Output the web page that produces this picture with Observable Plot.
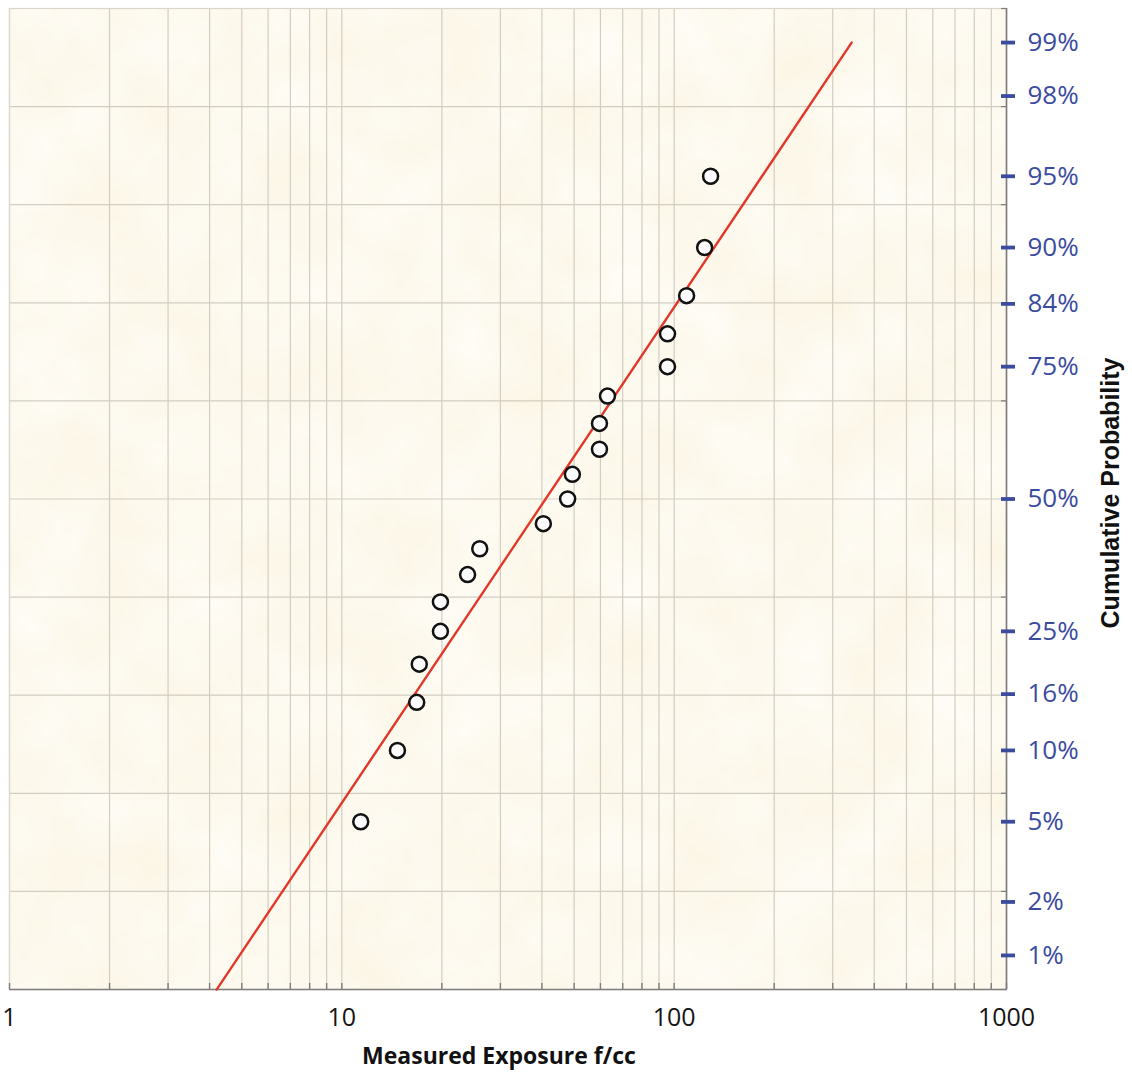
<!DOCTYPE html>
<html>
<head>
<meta charset="utf-8">
<script src="https://cdn.jsdelivr.net/npm/d3@7"></script>
<script src="https://cdn.jsdelivr.net/npm/@observablehq/plot@0.6"></script>
<style>
  html, body { margin: 0; padding: 0; background: #ffffff; }
  #chart { width: 1132px; height: 1074px; }
</style>
</head>
<body>
<div id="chart"></div>
<script>
// ---- data ----
const exposure = [11.4, 14.7, 16.8, 17.1, 19.8, 19.8, 23.9, 26.0, 40.4, 47.8, 49.4, 59.6, 59.6, 63.0, 95.5, 95.5, 109, 123.5, 128.7];
const cumProb  = [0.05, 0.10, 0.15, 0.20, 0.25, 0.30, 0.35, 0.40, 0.45, 0.50, 0.55, 0.60, 0.65, 0.70, 0.75, 0.80, 0.85, 0.90, 0.95];
const fitExposure = [4.2, 342];
const fitProb     = [0.0062, 0.99];
const probTicks  = [0.01, 0.02, 0.05, 0.10, 0.16, 0.25, 0.50, 0.75, 0.84, 0.90, 0.95, 0.98, 0.99];
const probLabels = ["1%", "2%", "5%", "10%", "16%", "25%", "50%", "75%", "84%", "90%", "95%", "98%", "99%"];
const zGrid = [-2.5, -2, -1.5, -1, -0.5, 0, 0.5, 1, 1.5, 2, 2.5];
const xTickValues = [1, 10, 100, 1000];
const xTickLabels = ["1", "10", "100", "1000"];
const xTitle = "Measured Exposure f/cc";
const yTitle = "Cumulative Probability";

// inverse standard normal CDF (Acklam)
function qnorm(p) {
  const a = [-3.969683028665376e+01, 2.209460984245205e+02, -2.759285104469687e+02, 1.383577518672690e+02, -3.066479806614716e+01, 2.506628277459239e+00];
  const b = [-5.447609879822406e+01, 1.615858368580409e+02, -1.556989798598866e+02, 6.680131188771972e+01, -1.328068155288572e+01];
  const c = [-7.784894002430293e-03, -3.223964580411365e-01, -2.400758277161838e+00, -2.549732539343734e+00, 4.374664141464968e+00, 2.938163982698783e+00];
  const d = [7.784695709041462e-03, 3.224671290700398e-01, 2.445134137142996e+00, 3.754408661907416e+00];
  const pl = 0.02425, ph = 1 - pl;
  let q, r;
  if (p < pl) {
    q = Math.sqrt(-2 * Math.log(p));
    return (((((c[0]*q+c[1])*q+c[2])*q+c[3])*q+c[4])*q+c[5]) / ((((d[0]*q+d[1])*q+d[2])*q+d[3])*q+1);
  } else if (p <= ph) {
    q = p - 0.5; r = q*q;
    return (((((a[0]*r+a[1])*r+a[2])*r+a[3])*r+a[4])*r+a[5])*q / (((((b[0]*r+b[1])*r+b[2])*r+b[3])*r+b[4])*r+1);
  } else {
    q = Math.sqrt(-2 * Math.log(1 - p));
    return -(((((c[0]*q+c[1])*q+c[2])*q+c[3])*q+c[4])*q+c[5]) / ((((d[0]*q+d[1])*q+d[2])*q+d[3])*q+1);
  }
}

const points = exposure.map((x, i) => ({x, z: qnorm(cumProb[i])}));
const fit = fitExposure.map((x, i) => ({x, z: qnorm(fitProb[i])}));
const probZ = probTicks.map(qnorm);
const labelByZ = new Map(probZ.map((z, i) => [z, probLabels[i]]));
const labelByX = new Map(xTickValues.map((v, i) => [v, xTickLabels[i]]));
// log grid positions 1..1000
const xGrid = [];
for (const decade of [1, 10, 100]) for (let k = 1; k < 10; k++) xGrid.push(k * decade);
xGrid.push(1000);

const blue = "#3b4c9e";
const gridColor = "#d3cdc1";
const sansFont = "'Open Sans', 'Noto Sans', sans-serif";

const chart = Plot.plot({
  width: 1132,
  height: 1074,
  marginLeft: 9,
  marginTop: 8,
  marginRight: 126,
  marginBottom: 85,
  style: {fontFamily: sansFont, background: "transparent", overflow: "visible"},
  x: {type: "log", domain: [1, 1000]},
  y: {type: "linear", domain: [-2.5, 2.5]},
  marks: [
    Plot.frame({fill: "url(#parchment)", stroke: null}),
    Plot.ruleX(xGrid, {stroke: gridColor, strokeWidth: 1.2}),
    Plot.ruleY(zGrid, {stroke: gridColor, strokeWidth: 1.2}),
    Plot.frame({stroke: "#dcd6ca", strokeWidth: 1.2}),
    Plot.ruleX([1000], {stroke: "#7d7d7d", strokeWidth: 1.6}),
    Plot.ruleY([-2.5], {stroke: "#7d7d7d", strokeWidth: 1.6}),
    // inward ticks on the bottom axis
    Plot.axisX(xGrid, {anchor: "bottom", tickSize: -6, tickFormat: () => "", stroke: "#7d7d7d", strokeWidth: 1.4, label: null}),
    // inward ticks on the right axis at grid lines
    Plot.axisY(zGrid, {anchor: "right", tickSize: -6, tickFormat: () => "", stroke: "#7d7d7d", strokeWidth: 1.2, label: null}),
    // x labels
    Plot.axisX(xTickValues, {anchor: "bottom", tickSize: 0, tickPadding: 19, tickFormat: v => labelByX.get(v), fontSize: 25, fill: "#151515", label: null}),
    // blue probability ticks
    Plot.axisY(probZ, {anchor: "right", tickSize: 14, dx: -6, tickFormat: () => "", stroke: blue, strokeWidth: 3.8, label: null}),
    Plot.axisY(probZ, {anchor: "right", tickSize: 0, tickPadding: 21, tickFormat: z => labelByZ.get(z), fontSize: 26, fill: blue, label: null}),
    Plot.line(fit, {x: "x", y: "z", stroke: "#e2382a", strokeWidth: 2.4}),
    Plot.dot(points, {x: "x", y: "z", r: 7.5, fill: "#fbfbfb", stroke: "#111", strokeWidth: 2.5}),
    Plot.text([xTitle], {frameAnchor: "bottom", dx: -9, dy: 74, fontSize: 23, fontWeight: "bold", fill: "#111", textAnchor: "middle", fontFamily: sansFont}),
    Plot.text([yTitle], {frameAnchor: "right", dx: 104, dy: -6, rotate: -90, textAnchor: "middle", fontSize: 25, fontWeight: "bold", fill: "#111", fontFamily: "'Liberation Sans', Arial, sans-serif"})
  ]
});

// parchment texture definition (style only)
const ns = "http://www.w3.org/2000/svg";
const defs = document.createElementNS(ns, "defs");
defs.innerHTML = `
  <filter id="parchTurb" x="0" y="0" width="1132" height="1074" filterUnits="userSpaceOnUse">
    <feTurbulence type="fractalNoise" baseFrequency="0.012" numOctaves="4" seed="7" result="n"/>
    <feColorMatrix in="n" type="matrix" values="
      0.04 0 0 0 0.962
      0.08 0 0 0 0.908
      0.20 0 0 0 0.755
      0 0 0 0 1"/>
  </filter>
  <pattern id="parchment" patternUnits="userSpaceOnUse" x="0" y="0" width="1132" height="1074">
    <rect x="0" y="0" width="1132" height="1074" fill="#faf1d6" filter="url(#parchTurb)"/>
  </pattern>`;
chart.insertBefore(defs, chart.firstChild);
document.getElementById("chart").appendChild(chart);
</script>
</body>
</html>
